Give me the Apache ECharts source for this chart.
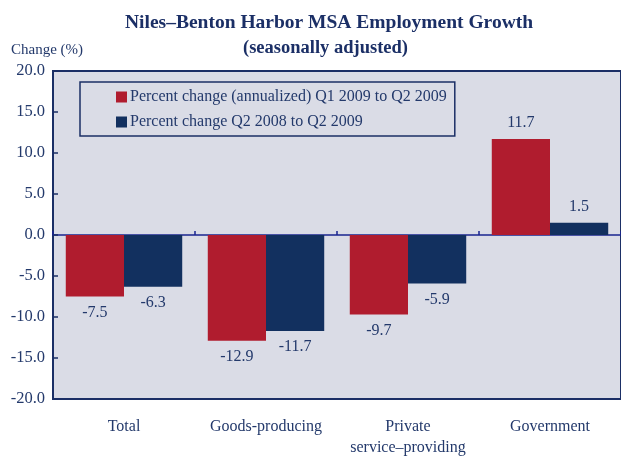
<!DOCTYPE html>
<html><head><meta charset="utf-8">
<script src="https://cdn.jsdelivr.net/npm/echarts@6/dist/echarts.min.js"></script>
<style>html,body{margin:0;padding:0;background:#fff}#c{width:621px;height:458px}</style>
</head><body><div id="c"></div>
<script>
const categories = ['Total', 'Goods-producing', 'Private\nservice\u2013providing', 'Government'];
const seriesNames = ['Percent change (annualized) Q1 2009 to Q2 2009', 'Percent change Q2 2008 to Q2 2009'];
const annualizedQ1toQ2 = [-7.5, -12.9, -9.7, 11.7];
const yearOverYear = [-6.3, -11.7, -5.9, 1.5];
const yTicks = { min: -20, max: 20, interval: 5 };

const FONT = '"Liberation Serif", "Times New Roman", serif';
const NAVY = '#1b2f66';
const ZERO = '#1a2590';
const TXT = '#23396b';
const RED = '#b01c2e';
const BLUE = '#12305f';

function build(vals) {
  return vals.map(v => ({ value: v, label: { position: v < 0 ? 'bottom' : 'top' } }));
}

const chart = echarts.init(document.getElementById('c'));
chart.setOption({
  animation: false,
  backgroundColor: '#fff',
  textStyle: { fontFamily: FONT },
  title: [
    { text: 'Niles\u2013Benton Harbor MSA Employment Growth', left: 120, top: 8,
      textStyle: { fontFamily: FONT, fontWeight: 'bold', fontSize: 19.5, color: NAVY } },
    { text: '(seasonally adjusted)', left: 238, top: 34,
      textStyle: { fontFamily: FONT, fontWeight: 'bold', fontSize: 18.5, color: NAVY } },
    { text: 'Change (%)', left: 6, top: 38,
      textStyle: { fontFamily: FONT, fontWeight: 'normal', fontSize: 15, color: TXT } }
  ],
  legend: {
    orient: 'vertical', left: 80, top: 82,
    data: seriesNames,
    itemWidth: 11, itemHeight: 11, itemGap: 9,
    icon: 'rect',
    borderColor: NAVY, borderWidth: 1.5, borderRadius: 0,
    padding: [7, 8, 6, 36],
    textStyle: { fontFamily: FONT, fontSize: 16, color: TXT, padding: [0,0,0,-2] }
  },
  grid: {
    left: 53, right: -3, top: 71, bottom: 57,
    show: true, backgroundColor: '#dadce6', borderColor: NAVY, borderWidth: 2
  },
  xAxis: [
    { type: 'category', data: categories, position: 'bottom',
      axisLine: { show: false, onZero: false }, axisTick: { show: false },
      axisLabel: { fontFamily: FONT, fontSize: 16, color: TXT, margin: 17, lineHeight: 21, interval: 0 } },
    { type: 'category', data: categories, position: 'bottom',
      axisLine: { show: true, onZero: true, lineStyle: { color: ZERO, width: 1.5 } },
      axisTick: { show: true, inside: true, length: 4, lineStyle: { color: ZERO, width: 1.5 } },
      axisLabel: { show: false } }
  ],
  yAxis: {
    type: 'value', min: yTicks.min, max: yTicks.max, interval: yTicks.interval,
    splitLine: { show: false },
    axisLine: { show: true, lineStyle: { color: NAVY, width: 2 } },
    axisTick: { show: true, inside: true, length: 5, lineStyle: { color: NAVY, width: 1.5 } },
    axisLabel: { fontFamily: FONT, fontSize: 16.5, color: TXT, margin: 8, formatter: v => v.toFixed(1) }
  },
  series: [
    { name: seriesNames[0], type: 'bar', data: build(annualizedQ1toQ2), itemStyle: { color: RED },
      barGap: '0%', barCategoryGap: '18%',
      label: { show: true, distance: 8, fontFamily: FONT, fontSize: 16, color: TXT, formatter: p => p.value.toFixed(1) } },
    { name: seriesNames[1], type: 'bar', data: build(yearOverYear), itemStyle: { color: BLUE },
      barGap: '0%', barCategoryGap: '18%',
      label: { show: true, distance: 8, fontFamily: FONT, fontSize: 16, color: TXT, formatter: p => p.value.toFixed(1) } }
  ]
});
</script></body></html>
